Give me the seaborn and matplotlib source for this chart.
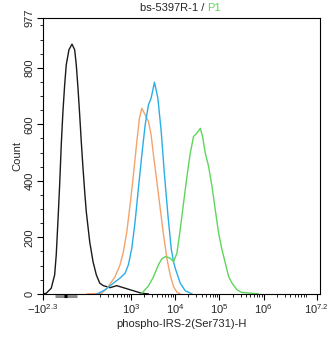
import numpy as np
import pandas as pd
import matplotlib
matplotlib.use("Agg")
import matplotlib.pyplot as plt
import seaborn as sns

# x positions are in display-decade units: 3 -> 10^3, 4 -> 10^4, ...
black_x = [1.02, 1.090, 1.204, 1.281, 1.317, 1.355, 1.394, 1.430, 1.468, 1.507, 1.543, 1.604,
           1.672, 1.733, 1.769, 1.808, 1.846, 1.882, 1.921, 1.959, 1.995, 2.072, 2.147, 2.222,
           2.299, 2.380, 2.532, 2.683, 2.871, 3.059, 3.249, 3.398]
black_y = [0, 2, 20, 67, 138, 256, 386, 527, 645, 740, 811, 864,
           884, 864, 811, 728, 634, 539, 445, 362, 291, 185, 114, 67,
           38, 29, 22, 29, 20, 11, 2, 0]

orange_x = [2.005, 2.344, 2.493, 2.645, 2.758, 2.833, 2.910, 2.984, 3.059, 3.136, 3.195, 3.249,
            3.324, 3.398, 3.459, 3.511, 3.588, 3.663, 3.738, 3.814, 3.889, 3.964, 4.041, 4.115]
orange_y = [0, 2, 26, 61, 103, 150, 220, 315, 421, 539, 622, 657,
            634, 610, 563, 492, 398, 303, 209, 126, 67, 26, 6, 0]

blue_x = [2.231, 2.267, 2.419, 2.606, 2.758, 2.871, 2.946, 3.023, 3.097, 3.172, 3.249, 3.324,
          3.398, 3.459, 3.534, 3.611, 3.686, 3.760, 3.837, 3.912, 3.964, 4.002, 4.115, 4.229, 4.380]
blue_y = [0, 2, 14, 38, 56, 73, 103, 162, 256, 374, 492, 598,
          669, 693, 749, 693, 575, 421, 280, 160, 114, 91, 38, 11, 0]

green_x = [3.249, 3.324, 3.398, 3.511, 3.624, 3.701, 3.783, 3.889, 3.964, 4.041, 4.115, 4.190,
           4.267, 4.342, 4.416, 4.493, 4.568, 4.620, 4.681, 4.756, 4.833, 4.907, 4.982, 5.059,
           5.133, 5.208, 5.285, 5.398, 5.511, 5.738, 5.880]
green_y = [2, 15, 28, 60, 103, 124, 132, 126, 114, 144, 227, 321,
           415, 498, 557, 569, 586, 557, 498, 451, 380, 297, 215, 156,
           109, 61, 38, 14, 5, 2, 0]

xtick_pos = [1.02, 3, 4, 5, 6, 7.2]
xtick_labels = [r"$-10^{2.3}$", r"$10^{3}$", r"$10^{4}$", r"$10^{5}$", r"$10^{6}$", r"$10^{7.2}$"]
ytick_pos = [0, 200, 400, 600, 800, 977]

sns.set_style("ticks")
plt.rcParams['font.family'] = ['Liberation Sans', 'DejaVu Sans']
plt.rcParams['mathtext.default'] = 'regular'

fig = plt.figure(figsize=(3.34, 3.37), dpi=100)
ax = fig.add_axes([0.129, 0.128, 0.829, 0.819])

series = [(black_x, black_y, "#1a1a1a"), (orange_x, orange_y, "#f4a36c"),
          (blue_x, blue_y, "#2aaee6"), (green_x, green_y, "#5ed65a")]
for xs, ys, c in series:
    df = pd.DataFrame({"x": xs, "y": ys})
    sns.lineplot(data=df, x="x", y="y", ax=ax, color=c, linewidth=1.0, sort=False)

ax.set_xlim(1.02, 7.27)
ax.set_ylim(0, 977)
ax.set_xticks(xtick_pos)
ax.set_xticklabels(xtick_labels, fontsize=8)
minor = []
for d in range(2, 7):
    for k in range(2, 10):
        v = d + np.log10(k)
        if 2.3 < v < 7.2:
            minor.append(v)
ax.set_xticks(minor, minor=True)
ax.set_yticks(ytick_pos)
ax.set_yticklabels([str(v) for v in ytick_pos], fontsize=8, rotation=90, va='center')
ax.set_yticks([v for v in range(50, 977, 50) if v % 200 != 0], minor=True)
ax.tick_params(axis='both', which='major', length=4, width=0.8, color='black', pad=2)
ax.tick_params(axis='both', which='minor', length=2, width=0.6, color='black')
ax.set_xlabel("phospho-IRS-2(Ser731)-H", fontsize=8, labelpad=2)
ax.set_ylabel("Count", fontsize=8, labelpad=2)
for s in ax.spines.values():
    s.set_linewidth(0.8)
    s.set_color('black')

# grey bar under the axis near the origin
ax.plot([1.28, 1.78], [-9, -9], color='#8a8a8a', linewidth=2.2, solid_capstyle='butt',
        clip_on=False, zorder=5)
ax.plot([1.50, 1.56], [-9, -9], color='black', linewidth=2.2, solid_capstyle='butt',
        clip_on=False, zorder=6)

fig.text(0.620, 0.976, "bs-5397R-1 / ", fontsize=8, ha='right', va='center')
fig.text(0.620, 0.976, "P1", fontsize=8, ha='left', va='center', color='#5ed65a')

fig.savefig("out.png", dpi=100)
